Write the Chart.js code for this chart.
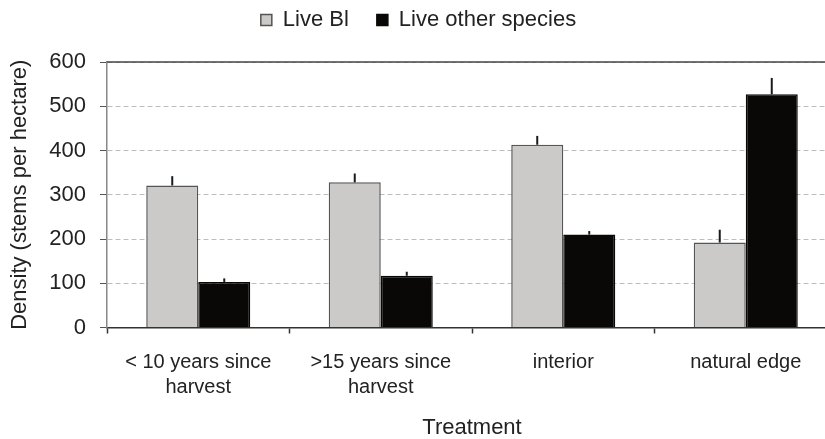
<!DOCTYPE html>
<html>
<head>
<meta charset="utf-8">
<script src="https://cdn.jsdelivr.net/npm/chart.js@4"></script>
<style>
  html, body { margin: 0; padding: 0; background: #fff; overflow: hidden; }
  #wrap { width: 845px; height: 439px; position: relative; }
</style>
</head>
<body>
<div id="wrap"><canvas id="chart"></canvas></div>
<script>
const categories = [['< 10 years since', 'harvest'], ['>15 years since', 'harvest'], 'interior', 'natural edge'];
const liveBl = [321, 328, 413, 192];
const liveOther = [103, 117, 210, 527];
const errBl = [21, 20, 20, 29];
const errOther = [8, 9, 8, 37];
const yTicks = [0, 100, 200, 300, 400, 500, 600];

const FONT = '"Liberation Sans", Arial, sans-serif';

// upward-only error bars, drawn on top of the bars
const errorBars = {
    id: 'errorBars',
    beforeLayout(chart) {
        // leave a gap between the legend and the plot
        const lg = chart.legend;
        if (lg && !lg._extra) {
            const fit = lg.fit.bind(lg);
            lg.fit = () => { fit(); lg.height += 21; };
            lg._extra = true;
        }
    },
    afterDatasetsDraw(chart) {
        const ctx = chart.ctx;
        const y = chart.scales.y;
        ctx.save();
        ctx.strokeStyle = '#1a1a1a';
        ctx.lineWidth = 2;
        chart.data.datasets.forEach((ds, i) => {
            const meta = chart.getDatasetMeta(i);
            meta.data.forEach((bar, j) => {
                const top = y.getPixelForValue(ds.data[j] + ds.errors[j]);
                ctx.beginPath();
                ctx.moveTo(bar.x, bar.y);
                ctx.lineTo(bar.x, top);
                ctx.stroke();
            });
        });
        ctx.restore();
    },
    afterDraw(chart) {
        // solid frame line along the top of the plot
        const a = chart.chartArea;
        const ctx = chart.ctx;
        ctx.save();
        ctx.strokeStyle = '#444';
        ctx.lineWidth = 1.5;
        ctx.beginPath();
        ctx.moveTo(a.left, a.top);
        ctx.lineTo(a.right, a.top);
        ctx.stroke();
        ctx.restore();
    }
};

new Chart(document.getElementById('chart'), {
    type: 'bar',
    data: {
        labels: categories,
        datasets: [{
            label: 'Live Bl',
            data: liveBl,
            errors: errBl,
            backgroundColor: '#cbcac8',
            borderColor: '#555',
            borderWidth: 1.5
        }, {
            label: 'Live other species',
            data: liveOther,
            errors: errOther,
            backgroundColor: '#0a0806',
            borderColor: '#0a0806',
            borderWidth: 1.5
        }]
    },
    options: {
        responsive: true,
        maintainAspectRatio: false,
        animation: false,
        layout: { padding: { top: -19, right: 8, left: 0, bottom: 0 } },
        datasets: { bar: { barPercentage: 1, categoryPercentage: 0.57 } },
        plugins: {
            legend: {
                position: 'top',
                labels: {
                    boxWidth: 11,
                    boxHeight: 11,
                    padding: 28,
                    color: '#222',
                    font: { family: FONT, size: 22 }
                }
            },
            tooltip: { enabled: false }
        },
        scales: {
            x: {
                afterFit: (s) => { s.height = 111.5; },
                grid: {
                    offset: true,
                    drawOnChartArea: false,
                    drawTicks: true,
                    tickLength: 6,
                    tickColor: '#333',
                    tickWidth: 1.5
                },
                border: { color: '#333', width: 1.5 },
                ticks: {
                    color: '#222',
                    padding: 16,
                    maxRotation: 0,
                    font: { family: FONT, size: 20, lineHeight: 1.25 }
                },
                title: {
                    display: true,
                    text: 'Treatment',
                    color: '#222',
                    padding: { top: 0, bottom: 0 },
                    font: { family: FONT, size: 22, lineHeight: 1 }
                }
            },
            y: {
                min: 0,
                max: 600,
                afterFit: (s) => { s.width = 107; },
                afterBuildTicks: (s) => { s.ticks = yTicks.map(v => ({ value: v })); },
                grid: {
                    color: '#bdbdbd',
                    lineWidth: 1,
                    drawTicks: true,
                    tickLength: 7,
                    tickColor: '#555',
                    tickBorderDash: [],
                    tickWidth: 1
                },
                border: { color: '#888', width: 1.5, dash: [5, 3] },
                ticks: {
                    color: '#222',
                    padding: 14,
                    font: { family: FONT, size: 22 }
                },
                title: {
                    display: true,
                    text: 'Density (stems per hectare)',
                    color: '#222',
                    padding: { top: 7, bottom: 0 },
                    font: { family: FONT, size: 22 }
                }
            }
        }
    },
    plugins: [errorBars]
});
</script>
</body>
</html>
